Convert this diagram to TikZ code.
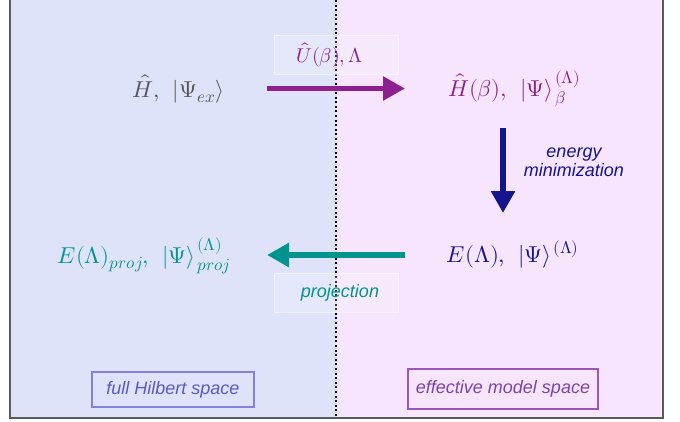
\documentclass[tikz,border=0pt]{standalone}
\usepackage{fontspec}
\usepackage{unicode-math}
\setmathfont{Latin Modern Math}
\newfontfamily\labfont{Liberation Sans}
\usetikzlibrary{arrows.meta}
\definecolor{leftbg}{HTML}{DFE3F9}
\definecolor{rightbg}{HTML}{F6E5FC}
\definecolor{framegray}{HTML}{5A5A5A}
\definecolor{hgray}{HTML}{555555}
\definecolor{purp}{HTML}{8E1F8E}
\definecolor{navy}{HTML}{14148C}
\definecolor{tealc}{HTML}{00948F}
\definecolor{hilbline}{HTML}{8282DC}
\definecolor{hilbtext}{HTML}{5A5AC0}
\definecolor{effline}{HTML}{9A56B8}
\definecolor{efftext}{HTML}{7A44A8}
\newcommand{\sep}{,\hspace{0.4em}}
\newcommand{\kt}{\mkern1.5mu{}}
\newcommand{\sss}[1]{\mbox{\fontsize{17}{19}\selectfont$#1$}}
\tikzset{
  mathlbl/.style={inner sep=0pt, anchor=base, font=\fontsize{23}{26}\selectfont},
  italiclbl/.style={inner sep=0pt, font=\labfont\itshape\fontsize{18}{20}\selectfont, align=center},
  bigarrow/.style={line width=5.5pt, -{Triangle[length=22pt,width=23pt]}},
  labelbox/.style={draw=white, draw opacity=0.5, line width=0.6pt, fill=white, fill opacity=0.2, text opacity=1, minimum width=124pt, minimum height=39pt, inner sep=0pt},
  spacebox/.style={line width=1.1pt, inner sep=0pt, font=\labfont\itshape\fontsize{18}{20}\selectfont}
}
\begin{document}
\begin{tikzpicture}[x=1pt,y=-1pt]
\useasboundingbox (0,0) rectangle (680,421);
% backgrounds
\fill[leftbg] (10,0) rectangle (336,418);
\fill[rightbg] (336,0) rectangle (663,418);
\draw[framegray, line width=1.6pt] (10,-2) -- (10,418) -- (663,418) -- (663,-2);
% dotted divider
\coordinate (dtop) at (336,0);
\coordinate (dbot) at (336,418);
\draw[black, line width=2pt, dash pattern=on 2pt off 2.6pt] (dtop) -- (dbot);
% label boxes on the divider
\node[labelbox, text=purp] (ulbl) at (336,54.5) {};
\node[mathlbl, text=purp, font=\fontsize{20}{23}\selectfont] (utext) at (329.5,62) {$\hat{U}(\beta),\Lambda$};
\node[labelbox] (plbl) at (336,292.5) {};
\node[italiclbl, text=tealc] (ptext) at (340,293) {projection};
% main terms
\node[mathlbl, text=hgray] (h) at (178.5,97) {$\hat{H}\sep|\Psi_{\sss{ex}}\rangle$};
\node[mathlbl, text=purp] (hb) at (514.5,96) {$\hat{H}(\beta)\sep|\Psi\rangle\kt^{\sss{(\Lambda)}}_{\sss{\beta}}$};
\node[mathlbl, text=navy] (e) at (513,262) {$E(\Lambda)\sep|\Psi\rangle\kt^{\sss{(\Lambda)}}$};
\node[mathlbl, text=tealc] (ep) at (144,263) {$E(\Lambda)_{\sss{proj}}\sep|\Psi\rangle\kt^{\sss{(\Lambda)}}_{\sss{proj}}$};
% arrow anchors
\coordinate (a1s) at (267,88.5);
\coordinate (a1e) at (405,88.5);
\coordinate (a2s) at (503,128);
\coordinate (a2e) at (503,213);
\coordinate (a3s) at (405,255);
\coordinate (a3e) at (267,255);
\draw[bigarrow, purp] (a1s) -- (a1e);
\draw[bigarrow, navy] (a2s) -- (a2e);
\draw[bigarrow, tealc] (a3s) -- (a3e);
\node[italiclbl, text=navy] (en) at (574,162) {energy\\[-1pt]minimization};
% space labels
\node[spacebox, draw=hilbline, text=hilbtext, minimum width=162pt, minimum height=35pt] (full) at (173,389.5) {full Hilbert space};
\node[spacebox, draw=effline, text=efftext, minimum width=190pt, minimum height=40pt] (eff) at (503,389) {effective model space};
\end{tikzpicture}
\end{document}
